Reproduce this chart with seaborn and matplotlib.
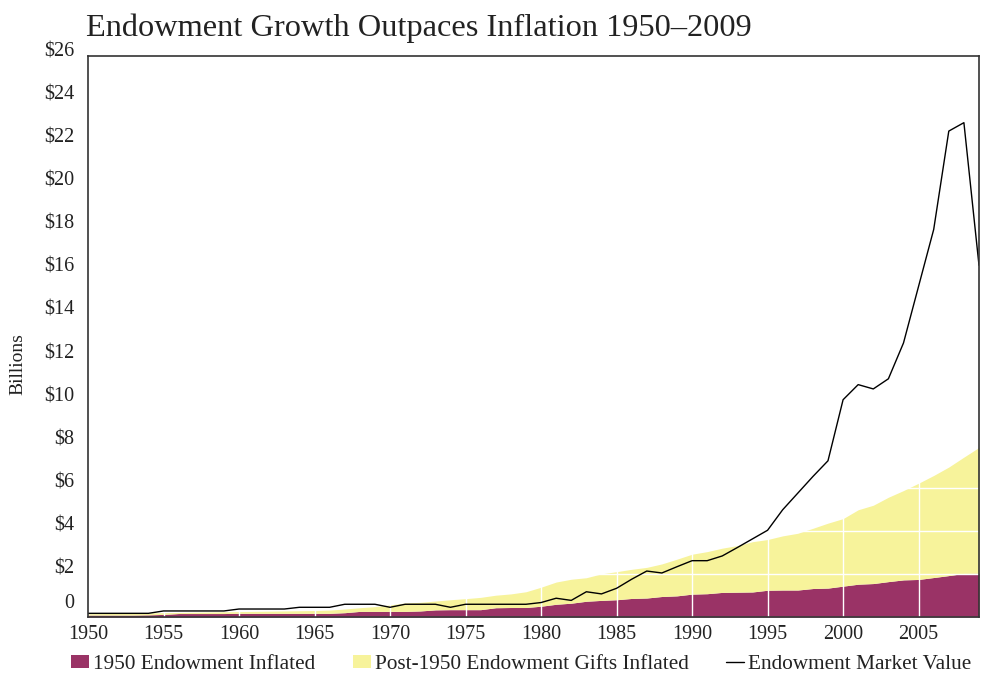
import matplotlib
matplotlib.use("Agg")
import matplotlib.pyplot as plt
import matplotlib.transforms as mtransforms
from matplotlib.patches import Patch
from matplotlib.lines import Line2D
import numpy as np
import seaborn as sns

# ---------------- data (billions of dollars) ----------------
years = list(range(1950, 2010))

endowment_1950_inflated = [
    0.09, 0.09, 0.09, 0.09, 0.10, 0.12, 0.16, 0.16, 0.16, 0.16,
    0.17, 0.17, 0.17, 0.17, 0.17, 0.17, 0.17, 0.20, 0.26, 0.26,
    0.26, 0.26, 0.28, 0.33, 0.34, 0.34, 0.34, 0.43, 0.44, 0.44,
    0.50, 0.59, 0.64, 0.73, 0.77, 0.80, 0.86, 0.88, 0.95, 0.98,
    1.06, 1.08, 1.14, 1.15, 1.16, 1.24, 1.25, 1.25, 1.32, 1.34,
    1.43, 1.52, 1.55, 1.64, 1.72, 1.74, 1.83, 1.92, 2.02, 2.03,
]

post_1950_gifts_inflated = [
    0.06, 0.07, 0.08, 0.09, 0.09, 0.08, 0.05, 0.06, 0.07, 0.08,
    0.08, 0.09, 0.10, 0.11, 0.12, 0.13, 0.15, 0.17, 0.17, 0.22,
    0.30, 0.39, 0.40, 0.41, 0.46, 0.51, 0.57, 0.58, 0.63, 0.73,
    0.88, 1.03, 1.11, 1.09, 1.23, 1.30, 1.35, 1.42, 1.51, 1.70,
    1.85, 1.95, 2.05, 2.16, 2.33, 2.35, 2.51, 2.63, 2.79, 3.01,
    3.13, 3.45, 3.63, 3.91, 4.14, 4.46, 4.73, 5.03, 5.39, 5.83,
]

market_value = [
    0.17, 0.17, 0.17, 0.17, 0.17, 0.28, 0.28, 0.28, 0.28, 0.28,
    0.37, 0.37, 0.37, 0.37, 0.45, 0.45, 0.45, 0.59, 0.59, 0.59,
    0.45, 0.59, 0.59, 0.59, 0.45, 0.59, 0.59, 0.59, 0.59, 0.59,
    0.67, 0.87, 0.77, 1.17, 1.07, 1.33, 1.75, 2.13, 2.04, 2.33,
    2.61, 2.61, 2.83, 3.22, 3.62, 4.02, 4.97, 5.74, 6.51, 7.24,
    10.07, 10.77, 10.57, 11.04, 12.70, 15.33, 17.96, 22.52, 22.91, 16.30,
]

y_ticks = list(range(0, 27, 2))
y_tick_labels = ["0"] + [f"${v}" for v in y_ticks[1:]]
x_ticks = list(range(1950, 2006, 5))
x_tick_labels = [str(v) for v in x_ticks]

title = "Endowment Growth Outpaces Inflation 1950\u20132009"
series_names = ["1950 Endowment Inflated",
                "Post-1950 Endowment Gifts Inflated",
                "Endowment Market Value"]

# ---------------- style ----------------
sns.set_theme(style="white")
plt.rcParams["font.family"] = ["Liberation Serif", "DejaVu Serif"]
TEXT = "#222222"
RED = "#9A3366"
YELLOW = "#F7F39B"

W, H = 982, 677
fig = plt.figure(figsize=(W / 100, H / 100), dpi=100)
ax = fig.add_axes([88 / W, 1 - 617 / H, (979 - 88) / W, (617 - 56) / H])

red = np.array(endowment_1950_inflated)
top = red + np.array(post_1950_gifts_inflated)

ax.fill_between(years, 0, red, color=RED, lw=0, zorder=1)
ax.fill_between(years, red, top, color=YELLOW, lw=0, zorder=1)
sns.lineplot(x=years, y=market_value, ax=ax, color="black", lw=1.0,
             zorder=4, legend=False)

ax.set_xlim(1950, 2009)
ax.set_ylim(0, 26)
ax.set_xticks(x_ticks)
ax.set_xticklabels(x_tick_labels)
ax.set_yticks(y_ticks)
ax.set_yticklabels(y_tick_labels)
ax.set_axisbelow(False)
ax.grid(True, color="white", lw=1.0, zorder=3)
ax.tick_params(axis="both", length=0, labelsize=14.5, colors=TEXT)
ax.tick_params(axis="y", pad=10)
ax.tick_params(axis="x", pad=6)
for lab in ax.get_yticklabels():
    lab.set_va("baseline")
# lift the zero label a little, as in the reference
zero_tick = ax.yaxis.get_major_ticks()[0]
zero_tick.label1.set_transform(
    zero_tick.label1.get_transform()
    + mtransforms.ScaledTranslation(0, 9 / 100, fig.dpi_scale_trans))

for sp in ax.spines.values():
    sp.set_color("#333333")
    sp.set_linewidth(1.2)
    sp.set_zorder(6)

ax.set_xlabel("")
ax.set_ylabel("Billions", fontsize=14, color=TEXT, va="center")
ax.yaxis.set_label_coords((18 - 88) / (979 - 88), 1 - (364 - 56) / (617 - 56))

fig.text(86 / W, 1 - 36 / H, title, fontsize=23.3, color=TEXT,
         ha="left", va="baseline")

handles = [Patch(facecolor=RED, edgecolor="none"),
           Patch(facecolor=YELLOW, edgecolor="none"),
           Line2D([0], [0], color="black", lw=1.0)]
fig.legend(handles, series_names, loc="lower left",
           bbox_to_anchor=(71 / W, 3 / H), bbox_transform=fig.transFigure,
           ncol=3, frameon=False, fontsize=15.3, labelcolor=TEXT,
           handlelength=0.85, handleheight=0.6, handletextpad=0.2,
           columnspacing=1.75, borderpad=0, borderaxespad=0)

fig.savefig("out.png", dpi=100)
